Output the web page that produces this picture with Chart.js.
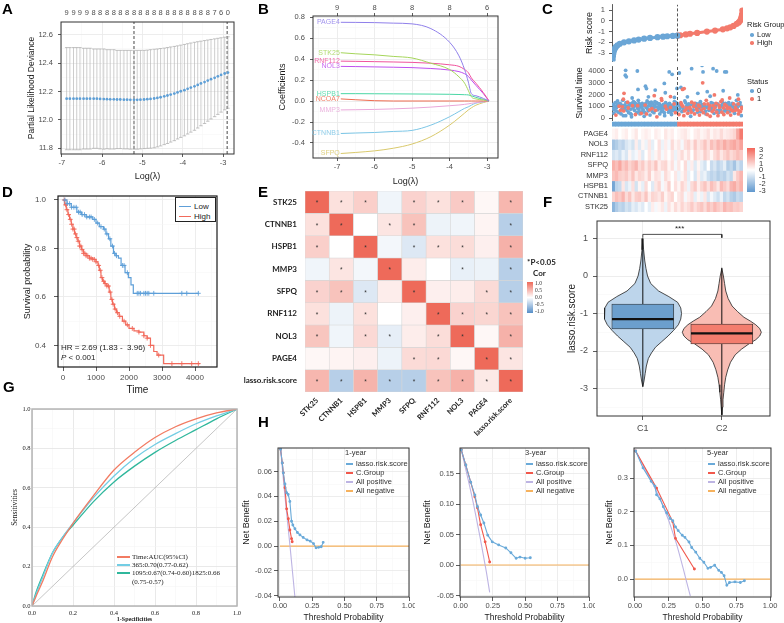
<!DOCTYPE html>
<html>
<head>
<meta charset="utf-8">
<title>Risk model figure</title>
<script src="https://cdn.jsdelivr.net/npm/chart.js@4.4.1/dist/chart.umd.min.js"></script>
<style>
  body { margin: 0; background: #ffffff; }
  #page { position: relative; width: 784px; height: 623px; overflow: hidden; background: #ffffff;
          font-family: "Liberation Sans", Arial, sans-serif; color: #1a1a1a; }
  #page canvas { position: absolute; }
  .tag { position: absolute; font-weight: bold; font-size: 15px; line-height: 15px; color: #000; }
  .t { position: absolute; white-space: nowrap; line-height: 1; transform: translateY(-50%); }
  .sw { position: absolute; }
</style>
</head>
<body>
<div id="page"></div>
<script>
// ---------- A: cross-validation curve ----------
var cvLambda = [-6.88,-6.80,-6.71,-6.63,-6.55,-6.46,-6.38,-6.30,-6.21,-6.13,-6.05,-5.96,-5.88,-5.80,-5.71,-5.63,-5.55,-5.46,-5.38,-5.30,-5.21,-5.13,-5.05,-4.96,-4.88,-4.80,-4.71,-4.63,-4.55,-4.46,-4.38,-4.30,-4.21,-4.13,-4.05,-3.96,-3.88,-3.80,-3.71,-3.63,-3.55,-3.46,-3.38,-3.30,-3.21,-3.13,-3.05,-2.96,-2.88];
var cvMean = [12.15,12.15,12.15,12.15,12.15,12.15,12.15,12.15,12.15,12.15,12.148,12.147,12.146,12.145,12.145,12.144,12.144,12.143,12.143,12.142,12.142,12.142,12.143,12.144,12.146,12.148,12.151,12.155,12.16,12.166,12.172,12.179,12.186,12.194,12.202,12.21,12.219,12.228,12.237,12.247,12.257,12.267,12.277,12.287,12.297,12.307,12.317,12.327,12.334];
var cvUpper = [12.51,12.51,12.51,12.51,12.51,12.505,12.505,12.505,12.5,12.5,12.5,12.5,12.495,12.495,12.495,12.49,12.49,12.49,12.49,12.49,12.49,12.49,12.49,12.49,12.492,12.495,12.498,12.5,12.503,12.506,12.51,12.514,12.518,12.522,12.527,12.532,12.537,12.542,12.547,12.551,12.555,12.559,12.563,12.567,12.571,12.575,12.579,12.583,12.586];
var cvLower = [11.79,11.79,11.79,11.79,11.79,11.795,11.795,11.795,11.8,11.8,11.796,11.794,11.797,11.795,11.795,11.798,11.798,11.796,11.796,11.794,11.794,11.794,11.796,11.798,11.8,11.801,11.804,11.81,11.817,11.826,11.834,11.844,11.854,11.866,11.877,11.888,11.901,11.914,11.927,11.943,11.959,11.975,11.991,12.007,12.023,12.039,12.055,12.071,12.082];
var cvTopNz = [9,9,9,9,8,8,8,8,8,8,8,8,8,8,8,8,8,8,8,8,8,8,7,6,0];
var cvMinLambda = -5.21;
var cv1seLambda = -2.9;

// ---------- B: coefficient paths ----------
var bX = [-6.9,-6.5,-6.0,-5.5,-5.0,-4.5,-4.0,-3.75,-3.6,-3.5,-3.42,-3.3,-3.1,-2.95];
var bGenes = ['PAGE4','STK25','RNF112','NOL3','HSPB1','NCOA7','MMP3','CTNNB1','SFPQ'];
var bColors = ['#8F7FEA','#A5D55A','#F0529C','#BE4FEF','#49D6A4','#EE6A4E','#E9A6D9','#7CC6E6','#D9C96C'];
var bPAGE4  = [0.75,0.749,0.747,0.742,0.735,0.69,0.56,0.43,0.30,0.18,0.07,0.05,0.025,0];
var bSTK25  = [0.46,0.45,0.44,0.425,0.41,0.36,0.30,0.23,0.17,0.10,0.04,0.02,0.01,0];
var bRNF112 = [0.38,0.378,0.375,0.372,0.368,0.36,0.345,0.33,0.30,0.27,0.22,0.17,0.08,0];
var bNOL3   = [0.33,0.328,0.325,0.322,0.318,0.31,0.295,0.28,0.26,0.235,0.20,0.15,0.07,0];
var bHSPB1  = [0.07,0.07,0.069,0.068,0.067,0.066,0.064,0.062,0.06,0.058,0.05,0.035,0.015,0];
var bNCOA7  = [0.02,0.012,0.003,0,0,0,0,0,0,0,0,0,0,0];
var bMMP3   = [-0.085,-0.083,-0.08,-0.075,-0.068,-0.058,-0.045,-0.038,-0.032,-0.027,-0.022,-0.016,-0.007,0];
var bCTNNB1 = [-0.31,-0.305,-0.30,-0.29,-0.28,-0.23,-0.15,-0.10,-0.07,-0.055,-0.04,-0.02,-0.008,0];
var bSFPQ   = [-0.50,-0.49,-0.475,-0.45,-0.41,-0.34,-0.23,-0.16,-0.115,-0.085,-0.065,-0.04,-0.015,0];
var bTopPos = [-7,-6,-5,-4,-3];
var bTopNz = [9,8,8,8,6];

// ---------- C: risk score, survival time, expression heatmap ----------
var riskIdx = [0,1,2,3,5,7,10,15,22,35,50,66,80,97,115,138,155,168,185,199];
var riskVal = [-3.6,-3.3,-3.05,-2.85,-2.68,-2.55,-2.42,-2.27,-2.13,-2.0,-1.9,-1.82,-1.74,-1.66,-1.59,-1.52,-1.47,-1.43,-1.4,-1.38];
var riskIdxH = [200,208,225,238,260,290,315,339,352,362,372,382,388,392,395,397,398,399];
var riskValH = [-1.37,-1.34,-1.26,-1.2,-1.12,-1.0,-0.9,-0.79,-0.7,-0.6,-0.47,-0.28,-0.15,0.0,0.2,0.4,0.6,0.95];
var riskCut = 199.5;
// [patient rank, survival time, status]
var survPts = [
[2,1150,0],[4,400,0],[5,700,0],[8,1300,0],[10,250,1],[12,900,0],[14,1050,0],[15,1450,0],[18,500,0],[20,1000,1],[23,1250,0],[24,650,1],[26,350,0],[29,800,0],[31,1500,0],[33,200,0],[34,600,1],[37,1100,0],[40,200,0],[43,950,0],[45,1000,0],[46,1350,1],[49,450,0],[52,1200,0],[55,750,0],[57,300,0],[58,100,0],[61,1050,1],[64,1400,0],[67,650,0],[68,1300,0],[70,300,1],[73,1150,0],[76,850,0],[79,1500,0],[80,750,0],[82,550,0],[85,1000,0],[88,400,1],[91,1250,0],[92,550,0],[94,700,0],[97,150,0],[100,1100,1],[103,900,0],[104,350,1],[106,1450,0],[109,600,0],[112,1300,0],[115,250,0],[116,1150,0],[118,1000,0],[121,800,1],[124,1200,0],[126,950,0],[127,450,0],[130,1400,0],[133,950,0],[136,100,1],[138,1250,0],[139,700,0],[142,1150,0],[145,350,0],[148,1050,0],[150,550,0],[151,1500,1],[154,600,0],[157,850,0],[160,200,0],[162,1000,1],[163,1300,0],[166,750,1],[169,1000,0],[172,500,0],[174,700,0],[175,1250,0],[178,900,1],[181,300,0],[184,1100,0],[186,1000,0],[187,650,0],[190,1400,0],[193,450,1],[196,950,0],[197,600,0],[199,1200,0],
[1,800,0],[7,1000,0],[11,600,0],[17,1200,0],[21,450,0],[27,1100,0],[30,950,1],[36,800,0],[41,1300,0],[44,650,0],[48,850,1],[51,1050,0],[54,400,0],[59,1250,0],[63,850,0],[66,1000,0],[71,1200,0],[74,450,0],[77,1050,1],[81,1250,0],[84,350,0],[87,1150,0],[90,850,0],[95,1050,0],[98,500,0],[102,1250,0],[107,800,0],[111,1050,0],[114,700,1],[119,1350,0],[122,550,0],[125,850,0],[129,1100,0],[132,650,1],[135,1300,0],[141,900,0],[144,1200,0],[147,800,0],[152,1000,0],[156,1150,0],[159,450,0],[164,900,0],[168,1150,0],[171,850,0],[177,1050,0],[180,550,0],[183,800,0],[189,1200,1],[192,800,0],[195,1300,0],
[33,1600,1],[35,2100,1],[39,3640,0],[40,4060,0],[42,3500,0],[60,1700,0],[76,4000,0],[78,2430,0],[101,2710,0],[104,2500,0],[110,1800,0],[128,1900,1],[131,2380,0],[150,1650,1],[159,2940,0],[162,2150,0],[174,3920,0],[178,1820,1],[183,3720,0],[190,1750,0],[198,2520,0],
[201,1100,0],[204,300,1],[205,3830,0],[206,1200,0],[207,800,0],[210,1300,1],[210,2600,0],[213,550,0],[215,2430,1],[216,1000,1],[218,650,0],[219,200,1],[220,2500,1],[222,1450,0],[225,700,1],[228,1050,0],[230,950,0],[230,1800,0],[231,400,1],[234,1200,0],[237,900,1],[240,150,0],[242,500,1],[243,1350,1],[243,4200,0],[246,600,0],[249,1000,1],[252,350,1],[254,1000,0],[255,1250,0],[258,800,1],[261,500,0],[262,2100,0],[264,1100,1],[266,850,0],[267,250,1],[270,1400,0],[273,700,1],[275,4480,0],[276,950,0],[277,2990,1],[278,1050,0],[278,3920,0],[279,450,1],[282,1200,1],[285,600,0],[288,1500,1],[290,900,0],[291,300,1],[291,2240,0],[294,1000,0],[297,800,1],[300,150,1],[300,1850,0],[302,700,0],[303,1300,0],[306,550,1],[309,1050,1],[309,4200,0],[312,400,0],[313,1960,1],[314,1150,0],[315,900,1],[318,1250,1],[320,4000,0],[321,650,0],[324,200,1],[326,450,0],[327,1100,1],[330,750,0],[333,1400,1],[336,500,1],[337,1540,1],[338,1300,0],[339,950,0],[340,2320,0],[342,300,1],[345,1150,1],[345,3920,0],[348,700,0],[350,600,0],[350,3920,0],[351,1000,1],[354,450,1],[357,1300,0],[360,850,1],[360,1700,1],[362,1000,0],[363,250,1],[366,1050,0],[369,600,1],[372,1200,1],[374,800,0],[375,400,0],[378,900,1],[381,1500,0],[384,700,1],[385,1960,0],[386,1200,1],[387,350,1],[387,1600,1],[390,1100,0],[393,550,1],[395,1000,0],[396,200,0],[398,800,1],
[203,700,0],[209,1000,0],[212,1150,1],[217,850,0],[221,600,1],[224,1300,0],[227,850,1],[233,650,0],[236,1100,0],[239,750,1],[245,1150,0],[248,700,0],[251,1250,1],[257,950,0],[260,650,1],[263,1200,0],[268,1000,1],[271,550,0],[274,1150,0],[281,800,1],[284,1000,0],[287,350,0],[293,1200,1],[296,650,0],[299,1050,1],[305,900,0],[308,1250,0],[311,700,1],[317,1000,0],[320,500,1],[323,1200,0],[329,900,1],[332,650,0],[335,1050,0],[341,850,1],[344,600,0],[347,1250,0],[353,800,1],[356,1100,0],[359,550,0],[365,700,1],[368,1250,0],[371,950,0],[377,650,1],[380,1100,0],[383,900,0],[389,600,1],[392,1300,0],[397,900,1]
];
var heatGenes = ['PAGE4','NOL3','RNF112','SFPQ','MMP3','HSPB1','CTNNB1','STK25'];
var hPAGE4  = [0.1,0.2,0,0.1,0.2,0,0.1,0.3,0,0.1,0.2,0.1,0,0.2,0.1,0,0.3,0.1,0.2,0,0.1,0.2,0.3,0.1,0,0.2,0.3,0.1,0.2,0.4,0.1,0.3,0.2,0.5,0.2,0.3,0.4,0.6,1.5,2.5];
var hNOL3   = [-1.5,-1.2,-0.8,-1.0,-0.5,-0.3,-0.6,0.2,-0.4,0.1,-0.2,0.3,-0.3,0.0,0.4,-0.2,0.2,-0.1,0.5,0.1,0.3,-0.1,0.4,0.6,0.2,0.8,0.3,0.5,0.9,0.4,1.0,0.7,1.2,0.9,1.4,1.0,1.3,1.5,1.1,1.6];
var hRNF112 = [-0.6,-0.4,-0.7,-0.2,-0.5,0.1,-0.3,-0.1,0.2,-0.4,0.0,0.3,-0.2,0.1,0.4,-0.1,0.2,0.0,0.3,-0.2,0.2,0.5,0.1,0.4,0.0,0.6,0.3,0.2,0.7,0.4,0.1,0.5,0.8,0.3,0.6,0.9,0.5,0.7,1.0,0.8];
var hSFPQ   = [1.3,1.0,1.5,0.8,1.1,0.6,0.9,1.2,0.5,0.8,0.3,0.7,0.4,0.9,0.2,0.5,0.6,0.1,0.4,-0.1,0.3,0.0,0.5,-0.2,0.2,-0.4,0.1,-0.3,-0.6,0.0,-0.8,-0.5,-1.0,-0.7,-0.3,-1.2,-0.9,-1.5,-0.6,-1.0];
var hMMP3   = [0.9,1.1,0.7,0.6,0.8,0.4,0.9,0.3,0.6,0.5,0.2,0.7,0.1,0.4,0.3,-0.1,0.5,0.2,0.0,0.3,-0.2,0.1,0.4,-0.3,0.0,-0.5,0.2,-0.4,-0.2,-0.7,-1.0,-0.8,-1.2,-0.9,-1.1,-0.6,-0.9,0.3,0.8,1.2];
var hHSPB1  = [-2.5,-1.0,-0.8,0.3,-0.5,-0.2,0.4,-0.6,0.1,-0.3,0.5,0.0,-0.4,0.3,0.6,-0.1,0.2,0.7,0.0,0.4,0.1,0.6,0.3,-0.2,0.5,0.8,0.2,0.6,0.9,0.4,1.0,0.7,0.3,1.1,0.8,0.5,1.2,1.4,0.9,1.3];
var hCTNNB1 = [0.6,1.0,0.8,1.2,0.5,0.9,0.3,0.7,0.8,0.4,0.9,0.2,0.6,0.5,0.3,0.7,0.1,0.4,0.6,0.0,0.3,0.5,-0.1,0.2,0.4,-0.3,0.1,-0.2,0.3,-0.5,-0.1,-0.4,-0.7,-0.2,-0.9,-0.6,-1.1,-1.3,-0.8,-1.0];
var hSTK25  = [-2.0,-1.3,-0.9,-1.1,-0.6,-0.8,-0.3,-0.5,-0.2,-0.4,0.0,-0.3,0.2,-0.1,0.1,0.3,-0.2,0.4,0.1,0.5,0.2,0.6,0.3,0.5,0.8,0.4,0.7,0.9,0.5,1.0,0.7,1.1,0.8,0.6,1.2,0.9,1.0,0.7,0.8,0.6];
var heatGroup = [0,0,0,0,0,0,0,0,0,0,0,0,0,0,0,0,0,0,0,0,1,1,1,1,1,1,1,1,1,1,1,1,1,1,1,1,1,1,1,1];

// ---------- D: Kaplan-Meier ----------
var lowT = [0,120,250,420,560,700,900,1000,1100,1230,1300,1380,1450,1530,1600,1680,1760,1880,1980,2060,2130,4100];
var lowS = [1.0,0.985,0.97,0.95,0.94,0.93,0.92,0.905,0.89,0.88,0.86,0.84,0.81,0.78,0.77,0.76,0.73,0.70,0.68,0.65,0.615,0.615];
var highT = [0,50,100,150,200,250,300,350,400,450,500,560,620,700,800,900,1000,1060,1100,1150,1200,1260,1330,1400,1450,1500,1560,1620,1700,1800,1900,2000,2150,2300,2450,2550,2650,2750,2850,3050,4150];
var highS = [1.0,0.98,0.96,0.94,0.92,0.90,0.88,0.86,0.845,0.83,0.81,0.795,0.78,0.77,0.76,0.755,0.745,0.73,0.71,0.68,0.665,0.655,0.645,0.62,0.59,0.57,0.55,0.535,0.52,0.50,0.485,0.47,0.46,0.455,0.44,0.43,0.40,0.375,0.36,0.325,0.325];
var lowCens = [60,130,200,260,330,400,470,520,580,650,720,800,850,950,1050,1150,1250,1330,1420,1500,1560,1620,1800,1850,1950,2250,2300,2350,2450,2500,2550,2600,2750,3600,3750,4100];
var highCens = [40,80,120,170,220,260,300,340,380,420,460,500,540,580,620,660,700,750,800,850,900,950,1000,1080,1130,1180,1230,1280,1330,1380,1430,1480,1520,1580,1650,1720,1850,1950,2100,2300,2450,2550,2650,2900,3300,3600,3900,4100];

// ---------- E: correlation matrix ----------
var eGenes = ['STK25','CTNNB1','HSPB1','MMP3','SFPQ','RNF112','NOL3','PAGE4','lasso.risk.score'];
var eCor = [
  [1, 0.12, 0.22, -0.04, 0.2, 0.12, 0.25, 0.02, 0.38],
  [0.12, 1, 0.0, 0.1, 0.3, -0.05, -0.04, 0.03, -0.32],
  [0.22, 0.0, 1, -0.03, -0.12, 0.12, 0.14, 0.05, 0.42],
  [-0.04, 0.1, -0.03, 1, 0.06, 0.0, -0.07, -0.05, -0.32],
  [0.2, 0.3, -0.12, 0.06, 1, 0.05, 0.06, 0.15, -0.32],
  [0.12, -0.05, 0.12, 0.0, 0.05, 1, 0.2, 0.18, 0.3],
  [0.28, -0.04, 0.16, -0.08, 0.06, 0.14, 1, 0.02, 0.42],
  [0.02, 0.03, 0.05, -0.05, 0.15, 0.16, 0.02, 1, 0.1],
  [0.38, -0.32, 0.4, -0.32, -0.32, 0.3, 0.42, 0.08, 1]
];
var eSig = [
  [1,1,1,0,1,1,1,0,1],
  [1,1,0,1,1,0,0,0,1],
  [1,0,1,0,1,1,1,0,1],
  [0,1,0,1,0,0,1,0,1],
  [1,1,1,0,1,0,0,1,1],
  [1,0,1,0,0,1,1,1,1],
  [1,0,1,1,0,1,1,0,1],
  [0,0,0,0,1,1,0,1,1],
  [1,1,1,1,1,1,1,1,1]
];

// ---------- F: violin + box ----------
var c1Vy = [1.0,0.7,0.4,0.2,0.0,-0.2,-0.4,-0.55,-0.7,-0.85,-1.0,-1.15,-1.3,-1.45,-1.6,-1.75,-1.9,-2.05,-2.2,-2.4,-2.6,-2.8,-2.95];
var c1Vw = [0.0,0.01,0.025,0.04,0.06,0.1,0.2,0.33,0.44,0.48,0.49,0.48,0.45,0.39,0.32,0.24,0.16,0.11,0.07,0.045,0.03,0.015,0.0];
var c2Vy = [0.2,0.0,-0.2,-0.4,-0.6,-0.8,-0.95,-1.1,-1.2,-1.3,-1.4,-1.5,-1.6,-1.7,-1.8,-1.95,-2.1,-2.3,-2.5,-2.7,-2.9,-3.1,-3.3,-3.5,-3.7];
var c2Vw = [0.0,0.02,0.035,0.05,0.08,0.13,0.2,0.28,0.36,0.43,0.48,0.5,0.48,0.43,0.35,0.25,0.17,0.11,0.075,0.05,0.035,0.025,0.015,0.008,0.0];
var boxC1 = { lo: -2.95, q1: -1.41, med: -1.15, q3: -0.75, hi: 1.0 };
var boxC2 = { lo: -3.72, q1: -1.81, med: -1.53, q3: -1.28, hi: 0.22 };

// ---------- G: ROC ----------
var rocFpr = [0,0.02,0.05,0.1,0.15,0.2,0.3,0.4,0.5,0.6,0.7,0.8,0.9,1.0];
var rocTime = [0,0.05,0.12,0.25,0.34,0.42,0.56,0.69,0.78,0.855,0.91,0.95,0.98,1.0];
var roc365  = [0,0.06,0.14,0.27,0.35,0.42,0.55,0.66,0.75,0.82,0.875,0.925,0.965,1.0];
var roc1095 = [0,0.07,0.15,0.27,0.35,0.41,0.53,0.63,0.71,0.78,0.84,0.895,0.95,1.0];
var rocLegend = ['Time:AUC(95%CI)','365:0.70(0.77-0.62)','1095:0.67(0.74-0.60)1825:0.66','(0.75-0.57)'];

// ---------- H: decision curves ----------
var dcaNames = ['lasso.risk.score','C.Group','All positive','All negative'];
var dcaColors = ['#6AAAD9','#F1584C','#BDB4E3','#F6B25E'];
var lasso1x = [0.005,0.018,0.026,0.039,0.052,0.064,0.077,0.09,0.1,0.116,0.135,0.155,0.18,0.21,0.235,0.26,0.28,0.3,0.32,0.335];
var lasso1y = [0.078,0.067,0.059,0.05,0.043,0.0415,0.036,0.02,0.017,0.014,0.011,0.009,0.007,0.005,0.004,0.002,-0.0014,-0.001,-0.0005,0.003];
var group1x = [0.005,0.018,0.026,0.039,0.052,0.065,0.077,0.09,0.095];
var group1y = [0.078,0.067,0.059,0.047,0.03,0.022,0.013,0.006,0.0035];
var allPos1x = [0.005,0.04,0.08,0.116];
var allPos1y = [0.078,0.039,-0.002,-0.041];
var lasso2x = [0.005,0.04,0.078,0.11,0.13,0.155,0.18,0.21,0.245,0.295,0.35,0.39,0.43,0.46,0.5,0.54];
var lasso2y = [0.189,0.164,0.136,0.115,0.096,0.082,0.069,0.049,0.038,0.033,0.028,0.02,0.011,0.013,0.011,0.012];
var group2x = [0.005,0.04,0.078,0.11,0.13,0.155,0.19,0.225];
var group2y = [0.189,0.164,0.136,0.112,0.094,0.066,0.038,0.005];
var allPos2x = [0.005,0.1,0.2,0.225];
var allPos2y = [0.189,0.1,-0.012,-0.045];
var lasso3x = [0.005,0.06,0.12,0.148,0.16,0.185,0.21,0.235,0.26,0.28,0.3,0.32,0.35,0.37,0.4,0.42,0.45,0.48,0.51,0.54,0.56,0.59,0.62,0.64,0.66,0.68,0.7,0.74,0.78,0.81];
var lasso3y = [0.38,0.33,0.29,0.276,0.25,0.238,0.215,0.197,0.18,0.173,0.155,0.144,0.13,0.124,0.11,0.094,0.08,0.062,0.05,0.032,0.035,0.041,0.026,0.02,0.01,-0.018,-0.01,-0.008,-0.01,-0.005];
var group3x = [0.005,0.16,0.28,0.3,0.44];
var group3y = [0.38,0.27,0.17,0.121,0.03];
var allPos3x = [0.005,0.2,0.3,0.41];
var allPos3y = [0.38,0.225,0.114,-0.05];

// ================= helpers =================
Chart.defaults.font.family = '"Liberation Sans", Arial, sans-serif';
Chart.defaults.font.size = 7.5;
Chart.defaults.color = '#4D4D4D';
Chart.defaults.animation = false;
Chart.defaults.responsive = false;
Chart.defaults.plugins.legend.display = false;
Chart.defaults.plugins.tooltip.enabled = false;
Chart.defaults.elements.point.radius = 0;
Chart.defaults.elements.point.hoverRadius = 0;

var page = document.getElementById('page');
var SERIF = '"Liberation Serif", "Times New Roman", serif';
var BLUE = '#6BA6D6', RED = '#F37A6C';

var framePlugin = {
  id: 'frame',
  afterDatasetsDraw(chart, args, o) {
    if (!o || !o.color) return;
    var a = chart.chartArea, ctx = chart.ctx;
    ctx.save();
    ctx.strokeStyle = o.color;
    ctx.lineWidth = o.width || 1;
    ctx.strokeRect(a.left, a.top, a.right - a.left, a.bottom - a.top);
    ctx.restore();
  }
};
Chart.register(framePlugin);

function mkCanvas(id, c) {
  var cv = document.createElement('canvas');
  cv.id = id;
  cv.width = c[2] - c[0];
  cv.height = c[3] - c[1];
  cv.style.left = c[0] + 'px';
  cv.style.top = c[1] + 'px';
  page.appendChild(cv);
  return cv;
}
function fitY(w) { return function (s) { s.width = w; s.paddingTop = 0; s.paddingBottom = 0; }; }
function fitX(h) { return function (s) { s.height = h; s.paddingLeft = 0; s.paddingRight = 0; }; }
function setTicks(vals) { return function (s) { s.ticks = vals.map(function (v) { return { value: v }; }); }; }
function near(v, step) { return Math.abs(v / step - Math.round(v / step)) < 1e-6; }
function steps(a, b, s) {
  var out = [];
  for (var v = a; v <= b + 1e-9; v += s) out.push(Math.round(v * 1e6) / 1e6);
  return out;
}
function pts(xs, ys) { return xs.map(function (x, i) { return { x: x, y: ys[i] }; }); }
function fix(v, d) { return (Math.round(v * 1e6) / 1e6).toFixed(d); }

// ggplot-like axis with major / minor grid
function ggAxis(o) {
  var isY = o.pos === 'y';
  var fam = o.family || Chart.defaults.font.family;
  var majorCol = o.gridColor || '#EBEBEB', minorCol = o.minorColor || '#F5F5F5';
  return {
    type: 'linear', position: isY ? 'left' : 'bottom',
    min: o.min, max: o.max, offset: false,
    afterFit: isY ? fitY(o.size) : fitX(o.size),
    afterBuildTicks: setTicks(o.ticks),
    border: { display: false },
    grid: {
      offset: false,
      color: function (c) { return c.tick && near(c.tick.value, o.major) ? majorCol : minorCol; },
      tickColor: function (c) { return c.tick && near(c.tick.value, o.major) ? (o.tickColor || '#333') : 'rgba(0,0,0,0)'; },
      lineWidth: function (c) { return c.tick && near(c.tick.value, o.major) ? 0.9 : 0.5; },
      tickLength: o.tl == null ? 3 : o.tl,
      tickWidth: 0.8,
      drawTicks: o.tl !== 0
    },
    ticks: {
      autoSkip: false, maxRotation: 0, padding: o.pad == null ? 2 : o.pad,
      color: o.tickText || '#4D4D4D', font: { size: o.fs || 7.5, family: fam },
      callback: function (v) { return near(v, o.major) ? o.fmt(v) : ''; }
    },
    title: {
      display: !!o.title, text: o.title, color: '#1A1A1A',
      font: { size: o.tsize || 9, family: fam, weight: o.tweight || 'normal' },
      padding: isY ? { top: o.tpad || 0, bottom: 0 } : { top: 0, bottom: o.tpad || 0 }
    }
  };
}
// plain left axis with an axis line (ggplot theme_classic)
function classicY(o) {
  return {
    type: 'linear', position: 'left', min: o.min, max: o.max,
    afterFit: fitY(o.size), afterBuildTicks: setTicks(o.ticks),
    border: { display: true, color: '#333', width: 0.8 },
    grid: { drawOnChartArea: false, tickLength: 3, tickColor: '#333', tickWidth: 0.8 },
    ticks: { autoSkip: false, padding: 4, color: '#4D4D4D', font: { size: 7.5 }, callback: function (v) { return String(v); } },
    title: { display: true, text: o.title, color: '#1A1A1A', font: { size: 9 }, padding: { top: o.tpad, bottom: 0 } }
  };
}

function addText(x, y, s, css) {
  var d = document.createElement('div');
  d.className = 't';
  d.innerHTML = s;
  d.style.left = x + 'px';
  d.style.top = y + 'px';
  if (css) d.style.cssText += css;
  page.appendChild(d);
  return d;
}
function addBox(x, y, w, h, css) {
  var d = document.createElement('div');
  d.className = 'sw';
  d.style.left = x + 'px'; d.style.top = y + 'px';
  d.style.width = w + 'px'; d.style.height = h + 'px';
  d.style.cssText += css;
  page.appendChild(d);
  return d;
}
function addLine(x, y, w, color, t) { return addBox(x, y - (t || 1.2) / 2, w, t || 1.2, 'background:' + color); }
function mix(c1, c2, t) { return 'rgb(' + c1.map(function (v, i) { return Math.round(v + (c2[i] - v) * t); }).join(',') + ')'; }
var WHITE = [255, 255, 255];
function corColor(v) {
  var t = Math.pow(Math.min(Math.abs(v), 1), 0.75);
  return v >= 0 ? mix(WHITE, [238, 106, 90], t) : mix(WHITE, [86, 142, 200], t);
}
function expColor(v) {
  var t = Math.pow(Math.min(Math.abs(v) / 3, 1), 0.8);
  return v >= 0 ? mix(WHITE, [243, 102, 90], t) : mix(WHITE, [96, 152, 206], t);
}
function stepAt(T, S, t) { var s = S[0]; for (var i = 0; i < T.length; i++) if (T[i] <= t) s = S[i]; return s; }

// ================= A =================
(function () {
  var yMin = 11.76, yMax = 12.69, xMin = -7.02, xMax = -2.73;
  var errSegs = [];
  cvLambda.forEach(function (x, i) { errSegs.push({ x: x, y: cvLower[i] }, { x: x, y: cvUpper[i] }, { x: x, y: null }); });
  var caps = [];
  cvLambda.forEach(function (x, i) { caps.push({ x: x, y: cvLower[i] }, { x: x, y: cvUpper[i] }); });
  var topPos = cvLambda.filter(function (_, i) { return i % 2 === 0; });
  new Chart(mkCanvas('cA', [0, 6, 240, 190]), {
    type: 'scatter',
    data: { datasets: [
      { data: pts(cvLambda, cvMean), pointRadius: 1.4, backgroundColor: '#5E9FD6', borderWidth: 0 },
      { data: caps, pointStyle: 'line', pointRadius: 1.7, borderColor: '#A9A9A9', borderWidth: 0.7 },
      { data: errSegs, showLine: true, spanGaps: false, borderColor: '#B8B8B8', borderWidth: 0.7 },
      { data: [{ x: cvMinLambda, y: yMin }, { x: cvMinLambda, y: yMax }], showLine: true, borderColor: '#333', borderWidth: 0.9, borderDash: [3, 2] },
      { data: [{ x: cv1seLambda, y: yMin }, { x: cv1seLambda, y: yMax }], showLine: true, borderColor: '#333', borderWidth: 0.9, borderDash: [3, 2] }
    ] },
    options: {
      layout: { padding: { left: 0, top: 0, right: 6, bottom: 0 } },
      plugins: { frame: { color: '#333', width: 1 } },
      scales: {
        x: ggAxis({ pos: 'x', size: 36, min: xMin, max: xMax, ticks: steps(-7, -3, 0.5), major: 1, fmt: String, pad: 1.5, title: 'Log(\u03bb)', tpad: 7.6 }),
        xTop: {
          type: 'linear', position: 'top', min: xMin, max: xMax,
          afterFit: fitX(16), afterBuildTicks: setTicks(topPos),
          border: { display: false }, grid: { drawOnChartArea: false, drawTicks: false },
          ticks: { autoSkip: false, maxRotation: 0, padding: 4.5, color: '#4D4D4D', font: { size: 7.5 },
                   callback: function (v, i) { return String(cvTopNz[i]); } }
        },
        y: ggAxis({ pos: 'y', size: 61, min: yMin, max: yMax, ticks: steps(11.8, 12.6, 0.1), major: 0.2, fmt: function (v) { return fix(v, 1); }, pad: 5, title: 'Partial Likelihood Deviance', tsize: 8.5, tpad: 26.5 })
      }
    }
  });
})();

// ================= B =================
(function () {
  var vals = [bPAGE4, bSTK25, bRNF112, bNOL3, bHSPB1, bNCOA7, bMMP3, bCTNNB1, bSFPQ];
  var pathLabels = {
    id: 'pathLabels',
    afterDatasetsDraw: function (chart) {
      var ctx = chart.ctx;
      ctx.save();
      ctx.font = '7px "Liberation Sans", Arial, sans-serif';
      ctx.textAlign = 'right';
      ctx.textBaseline = 'middle';
      ctx.globalAlpha = 0.85;
      chart.data.datasets.forEach(function (ds, i) {
        var p = chart.getDatasetMeta(i).data[0];
        ctx.fillStyle = ds.borderColor;
        ctx.fillText(ds.label, p.x - 1, p.y);
      });
      ctx.restore();
    }
  };
  new Chart(mkCanvas('cB', [240, 0, 505, 195]), {
    type: 'scatter',
    data: { datasets: bGenes.map(function (g, i) {
      return { label: g, data: pts(bX, vals[i]), showLine: true, borderColor: bColors[i], borderWidth: 1, cubicInterpolationMode: 'monotone' };
    }) },
    options: {
      layout: { padding: { left: 0, top: 0, right: 7, bottom: 0 } },
      plugins: { frame: { color: '#333', width: 1 } },
      scales: {
        x: ggAxis({ pos: 'x', size: 37, min: -7.64, max: -2.71, ticks: steps(-7.5, -3, 0.5), major: 1, fmt: String, pad: 1.5, title: 'Log(\u03bb)', tpad: 7.6 }),
        xTop: {
          type: 'linear', position: 'top', min: -7.64, max: -2.71,
          afterFit: fitX(16), afterBuildTicks: setTicks(bTopPos),
          border: { display: false }, grid: { drawOnChartArea: false, tickLength: 3, tickColor: '#333', tickWidth: 0.8 },
          ticks: { autoSkip: false, maxRotation: 0, padding: 0.5, color: '#4D4D4D', font: { size: 7.5 },
                   callback: function (v, i) { return String(bTopNz[i]); } }
        },
        y: ggAxis({ pos: 'y', size: 73, min: -0.543, max: 0.81, ticks: steps(-0.5, 0.8, 0.1), major: 0.2, fmt: function (v) { return fix(v, 1); }, pad: 5, title: 'Coefficients', tpad: 37.6 })
      }
    },
    plugins: [pathLabels]
  });
})();

// ================= C =================
(function () {
  var xMin = -2, xMax = 401;
  new Chart(mkCanvas('cC1', [545, 0, 784, 66]), {
    type: 'scatter',
    data: { datasets: [
      { data: [{ x: riskCut, y: -3.77 }, { x: riskCut, y: 1.51 }], showLine: true, borderColor: '#444', borderWidth: 0.9, borderDash: [3, 2] },
      { data: pts(riskIdx, riskVal), showLine: true, borderColor: BLUE, borderWidth: 3, pointRadius: 1.6, backgroundColor: BLUE, borderCapStyle: 'round', cubicInterpolationMode: 'monotone' },
      { data: pts(riskIdxH, riskValH), showLine: true, borderColor: RED, borderWidth: 3, pointRadius: 1.6, backgroundColor: RED, borderCapStyle: 'round', cubicInterpolationMode: 'monotone' }
    ] },
    options: {
      layout: { padding: { left: 0, top: 2, right: 41, bottom: 2 } },
      scales: {
        x: { type: 'linear', min: xMin, max: xMax, display: false },
        y: classicY({ size: 67, min: -3.77, max: 1.51, ticks: [-3, -2, -1, 0, 1], title: 'Risk score', tpad: 39.6 })
      }
    }
  });
  var s0 = survPts.filter(function (p) { return p[2] === 0; }).map(function (p) { return { x: p[0], y: p[1] }; });
  var s1 = survPts.filter(function (p) { return p[2] === 1; }).map(function (p) { return { x: p[0], y: p[1] }; });
  new Chart(mkCanvas('cC2', [545, 64, 784, 122]), {
    type: 'scatter',
    data: { datasets: [
      { data: [{ x: riskCut, y: -170 }, { x: riskCut, y: 4425 }], showLine: true, borderColor: '#444', borderWidth: 0.9, borderDash: [3, 2] },
      { data: s1, pointRadius: 1.9, backgroundColor: RED, borderWidth: 0 },
      { data: s0, pointRadius: 1.9, backgroundColor: BLUE, borderWidth: 0 }
    ] },
    options: {
      layout: { padding: { left: 0, top: 2, right: 41, bottom: 2 } },
      scales: {
        x: { type: 'linear', min: xMin, max: xMax, display: false },
        y: classicY({ size: 67, min: -170, max: 4425, ticks: [0, 1000, 2000, 3000, 4000], title: 'Survival time', tpad: 29.6 })
      }
    }
  });
  var rows = [hPAGE4, hNOL3, hRNF112, hSFPQ, hMMP3, hHSPB1, hCTNNB1, hSTK25];
  var sets = rows.map(function (vals, i) {
    return { type: 'bar', data: vals.map(function () { return [7 - i, 8 - i]; }), backgroundColor: vals.map(expColor),
             borderWidth: 0, grouped: false, barPercentage: 1, categoryPercentage: 1 };
  });
  sets.push({ type: 'bar', data: heatGroup.map(function () { return [8.25, 8.65]; }), backgroundColor: heatGroup.map(function (g) { return g ? RED : BLUE; }),
              borderWidth: 0, grouped: false, barPercentage: 1, categoryPercentage: 1 });
  new Chart(mkCanvas('cC3', [545, 119, 784, 214]), {
    type: 'bar',
    data: { labels: heatGroup.map(function (_, i) { return i; }), datasets: sets },
    options: {
      layout: { padding: { left: 0, top: 2, right: 41, bottom: 2 } },
      scales: {
        x: { display: false },
        y: {
          type: 'linear', min: 0, max: 8.75, afterFit: fitY(67),
          afterBuildTicks: setTicks(heatGenes.map(function (_, i) { return 7.5 - i; })),
          border: { display: false }, grid: { display: false, drawTicks: false },
          ticks: { autoSkip: false, padding: 4, color: '#333', font: { size: 7.5 },
                   callback: function (v) { return heatGenes[Math.round(7.5 - v)]; } }
        }
      }
    }
  });
  // legends
  addText(747, 25, 'Risk Group', 'font-size:7.5px;color:#222');
  addBox(750, 33.2, 3.6, 3.6, 'border-radius:50%;background:' + BLUE);
  addText(757, 35, 'Low', 'font-size:7.5px;color:#222');
  addBox(750, 41.2, 3.6, 3.6, 'border-radius:50%;background:' + RED);
  addText(757, 43, 'High', 'font-size:7.5px;color:#222');
  addText(747, 82, 'Status', 'font-size:7.5px;color:#222');
  addBox(750, 89.2, 3.6, 3.6, 'border-radius:50%;background:' + BLUE);
  addText(757, 91, '0', 'font-size:7.5px;color:#222');
  addBox(750, 97.2, 3.6, 3.6, 'border-radius:50%;background:' + RED);
  addText(757, 99, '1', 'font-size:7.5px;color:#222');
  addBox(747, 148, 8, 44, 'background:linear-gradient(to bottom,' + expColor(3) + ',' + expColor(0) + ',' + expColor(-3) + ')');
  ['3', '2', '1', '0', '-1', '-2', '-3'].forEach(function (s, i) { addText(759, 150 + i * 6.8, s, 'font-size:7.5px;color:#333'); });
})();

// ================= D =================
(function () {
  var kmBlue = '#5E9FD8', kmRed = '#F26A5B';
  new Chart(mkCanvas('cD', [0, 188, 225, 398]), {
    type: 'scatter',
    data: { datasets: [
      { data: lowCens.map(function (t) { return { x: t, y: stepAt(lowT, lowS, t) }; }), pointStyle: 'cross', pointRadius: 2.4, borderColor: kmBlue, borderWidth: 0.9 },
      { data: highCens.map(function (t) { return { x: t, y: stepAt(highT, highS, t) }; }), pointStyle: 'cross', pointRadius: 2.4, borderColor: kmRed, borderWidth: 0.9 },
      { data: pts(lowT, lowS), showLine: true, stepped: true, borderColor: kmBlue, borderWidth: 1.2 },
      { data: pts(highT, highS), showLine: true, stepped: true, borderColor: kmRed, borderWidth: 1.2 }
    ] },
    options: {
      layout: { padding: { left: 0, top: 8, right: 8, bottom: 0 } },
      plugins: { frame: { color: '#1A1A1A', width: 1.2 } },
      scales: {
        x: ggAxis({ pos: 'x', size: 31, min: -151.5, max: 4666, ticks: steps(0, 4500, 500), major: 1000, fmt: String, tl: 4, pad: 2, fs: 8, title: 'Time', tsize: 10, tpad: 2 }),
        y: ggAxis({ pos: 'y', size: 58, min: 0.311, max: 1.0165, ticks: steps(0.4, 1.0, 0.1), major: 0.2, fmt: function (v) { return fix(v, 1); }, tl: 4, pad: 8, fs: 8, title: 'Survival probability', tsize: 9, tpad: 22.6 })
      }
    }
  });
  addBox(175, 197, 41, 25, 'border:1px solid #222;background:#fff;box-sizing:border-box');
  addLine(179, 206.5, 12, kmBlue, 1.2);
  addText(194, 206.5, 'Low', 'font-size:8px;color:#222');
  addLine(179, 216.5, 12, kmRed, 1.2);
  addText(194, 216.5, 'High', 'font-size:8px;color:#222');
  addText(61, 348, 'HR = 2.69 (1.83 -&nbsp; 3.96)', 'font-size:8px;color:#222');
  addText(61, 358, '<i>P</i> &lt; 0.001', 'font-size:8px;color:#222');
})();

// ================= E =================
(function () {
  var stars = {
    id: 'stars',
    afterDatasetsDraw: function (chart) {
      var ctx = chart.ctx;
      ctx.save();
      ctx.fillStyle = '#333';
      ctx.font = '6.5px "Liberation Sans", Arial, sans-serif';
      ctx.textAlign = 'center';
      ctx.textBaseline = 'middle';
      eSig.forEach(function (row, r) {
        row.forEach(function (s, c) {
          if (!s) return;
          var el = chart.getDatasetMeta(r).data[c];
          ctx.fillText('*', el.x, (el.y + el.base) / 2 + 1.5);
        });
      });
      ctx.restore();
    }
  };
  var lato = 'Lato, "Open Sans", sans-serif';
  new Chart(mkCanvas('cE', [225, 185, 560, 450]), {
    type: 'bar',
    data: { labels: eGenes, datasets: eCor.map(function (row, r) {
      return { data: row.map(function () { return [r, r + 1]; }), backgroundColor: row.map(corColor),
               borderColor: '#D6D6D6', borderWidth: 0.6, borderSkipped: false, grouped: false, barPercentage: 1, categoryPercentage: 1 };
    }) },
    options: {
      layout: { padding: { left: 0, top: 6, right: 37, bottom: 0 } },
      scales: {
        x: {
          afterFit: fitX(58), border: { display: false }, grid: { display: false, drawTicks: false },
          ticks: { autoSkip: false, minRotation: 45, maxRotation: 45, padding: 4, color: '#222', font: { size: 7.5, weight: 'bold', family: lato } }
        },
        y: {
          type: 'linear', min: 0, max: 9, reverse: true, afterFit: fitY(80),
          afterBuildTicks: setTicks(eGenes.map(function (_, i) { return i + 0.5; })),
          border: { display: false }, grid: { display: false, drawTicks: false },
          ticks: { autoSkip: false, padding: 8, color: '#222', font: { size: 8, weight: 'bold', family: lato },
                   callback: function (v) { return eGenes[Math.round(v - 0.5)]; } }
        }
      }
    },
    plugins: [stars]
  });
  addText(527, 262, '*P&lt;0.05', 'font-size:8px;font-weight:bold;color:#222;font-family:' + lato);
  addText(533, 273, 'Cor', 'font-size:8px;font-weight:bold;color:#222;font-family:' + lato);
  addBox(527, 282, 6, 31, 'background:linear-gradient(to bottom,' + corColor(1) + ',' + corColor(0) + ',' + corColor(-1) + ')');
  ['1.0', '0.5', '0.0', '-0.5', '-1.0'].forEach(function (s, i) {
    addText(535, 284 + i * 7, s, 'font-size:5.5px;color:#333;font-family:' + SERIF);
  });
})();

// ================= F =================
(function () {
  function violin(cx, ys, ws) {
    var left = ys.map(function (y, i) { return { x: cx - ws[i], y: y }; });
    var right = ys.map(function (y, i) { return { x: cx + ws[i], y: y }; }).reverse();
    return left.concat(right);
  }
  var half = 0.39;
  function boxSets(cx, b, fill, vfill, ys, ws) {
    return [
      { data: [{ x: cx - half, y: b.med }, { x: cx + half, y: b.med }], showLine: true, borderColor: '#111', borderWidth: 2.2, order: 1 },
      { type: 'bar', data: [{ x: cx, y: [b.q1, b.q3] }], backgroundColor: fill, borderColor: '#333', borderWidth: 0.8,
        borderSkipped: false, barThickness: 62, grouped: false, order: 2 },
      { data: [{ x: cx, y: b.lo }, { x: cx, y: b.hi }], showLine: true, borderColor: '#111', borderWidth: 1, order: 3 },
      { data: violin(cx, ys, ws), showLine: true, fill: 'shape', backgroundColor: vfill, borderColor: '#222', borderWidth: 0.8, order: 4 }
    ];
  }
  var sets = boxSets(1, boxC1, '#6C9FCD', '#BDD5EB', c1Vy, c1Vw).concat(boxSets(2, boxC2, '#F37D6E', '#F9BDB4', c2Vy, c2Vw));
  sets.push({ data: [{ x: 1, y: 1.02 }, { x: 1, y: 1.11 }, { x: 2, y: 1.11 }, { x: 2, y: 1.02 }], showLine: true, borderColor: '#222', borderWidth: 0.8, order: 0 });
  new Chart(mkCanvas('cF', [545, 212, 784, 440]), {
    type: 'scatter',
    data: { datasets: sets },
    options: {
      layout: { padding: { left: 0, top: 9, right: 14, bottom: 0 } },
      plugins: { frame: { color: '#333', width: 1 } },
      scales: {
        x: ggAxis({ pos: 'x', size: 24, min: 0.42, max: 2.61, ticks: [1, 2], major: 1, fmt: function (v) { return v === 1 ? 'C1' : 'C2'; }, tl: 4, pad: 3, fs: 9 }),
        y: ggAxis({ pos: 'y', size: 52, min: -3.733, max: 1.467, ticks: steps(-3.5, 1.0, 0.5), major: 1, fmt: String, tl: 4, pad: 5, fs: 9, title: 'lasso.risk.score', tsize: 10, tpad: 21 })
      }
    }
  });
  addText(675, 229, '***', 'font-size:8px;color:#222');
})();

// ================= G =================
(function () {
  var cols = ['#F27B62', '#73CDE4', '#2FB79C'];
  new Chart(mkCanvas('cG', [0, 400, 245, 623]), {
    type: 'scatter',
    data: { datasets: [
      { data: pts(rocFpr, rocTime), showLine: true, borderColor: cols[0], borderWidth: 1.3, cubicInterpolationMode: 'monotone' },
      { data: pts(rocFpr, roc365), showLine: true, borderColor: cols[1], borderWidth: 1.3, cubicInterpolationMode: 'monotone' },
      { data: pts(rocFpr, roc1095), showLine: true, borderColor: cols[2], borderWidth: 1.3, cubicInterpolationMode: 'monotone' },
      { data: [{ x: 0, y: 0 }, { x: 1, y: 1 }], showLine: true, borderColor: '#A0A0A0', borderWidth: 0.6 }
    ] },
    options: {
      layout: { padding: { left: 0, top: 9, right: 8, bottom: 0 } },
      plugins: { frame: { color: '#B5B5B5', width: 1.5 } },
      scales: {
        x: ggAxis({ pos: 'x', size: 17, min: 0, max: 1, ticks: steps(0, 1, 0.1), major: 0.2, fmt: function (v) { return fix(v, 1); }, tl: 0, pad: 3, fs: 6.5, family: SERIF, tickText: '#222', gridColor: '#E6E6E6', minorColor: '#F3F3F3', title: '1-Specificities', tsize: 6, tweight: 'bold', tpad: 0 }),
        y: ggAxis({ pos: 'y', size: 32, min: 0, max: 1, ticks: steps(0, 1, 0.1), major: 0.2, fmt: function (v) { return fix(v, 1); }, tl: 0, pad: 1.5, fs: 6.5, family: SERIF, tickText: '#222', gridColor: '#E6E6E6', minorColor: '#F3F3F3', title: 'Sensitivities', tsize: 7.5, tpad: 10.5 })
      }
    }
  });
  var ys = [557, 565, 573, 582];
  rocLegend.forEach(function (s, i) {
    if (i < 3) addLine(117, ys[i], 13, cols[i], 1.2);
    addText(132, ys[i], s, 'font-size:7px;color:#222;font-family:' + SERIF);
  });
})();

// ================= H =================
function dcaChart(id, canvas, yw, padR, yOpt, xOpt, data, legendX, title) {
  new Chart(mkCanvas(id, canvas), {
    type: 'scatter',
    data: { datasets: [
      { data: data[0], showLine: true, borderColor: dcaColors[0], backgroundColor: dcaColors[0], borderWidth: 1.1, pointRadius: 0.9 },
      { data: data[1], showLine: true, borderColor: dcaColors[1], backgroundColor: dcaColors[1], borderWidth: 1.1, pointRadius: 0.9 },
      { data: data[2], showLine: true, borderColor: dcaColors[2], borderWidth: 1.1, cubicInterpolationMode: 'monotone' },
      { data: [{ x: 0, y: 0 }, { x: 1, y: 0 }], showLine: true, borderColor: dcaColors[3], borderWidth: 1.1 }
    ] },
    options: {
      layout: { padding: { left: 0, top: 8, right: padR, bottom: 0 } },
      plugins: { frame: { color: '#333', width: 1 } },
      scales: {
        x: ggAxis(Object.assign({ pos: 'x', size: 26, ticks: steps(0, 1, 0.125), major: 0.25, fmt: function (v) { return fix(v, 2); }, tl: 4, pad: 0.5, title: 'Threshold Probability', tsize: 8.5, tpad: 0.6 }, xOpt)),
        y: ggAxis(Object.assign({ pos: 'y', size: yw, tl: 4, pad: 2, title: 'Net Benefit', tsize: 9 }, yOpt))
      }
    }
  });
  addText(legendX, 453, title, 'font-size:7.5px;color:#333');
  dcaNames.forEach(function (n, i) {
    var y = 464 + i * 9;
    addLine(legendX + 1, y, 7, dcaColors[i], 1.2);
    addText(legendX + 11, y, n, 'font-size:7.5px;color:#333');
  });
}
dcaChart('cH1', [240, 440, 415, 623], 38, 6,
  { min: -0.041, max: 0.079, ticks: steps(-0.04, 0.07, 0.01), major: 0.02, fmt: function (v) { return fix(v, 2); }, tpad: 1.6 },
  { min: -0.015, max: 1.0 },
  [pts(lasso1x, lasso1y), pts(group1x, group1y), pts(allPos1x, allPos1y)], 345, '1-year');
dcaChart('cH2', [420, 440, 595, 623], 40, 6,
  { min: -0.0525, max: 0.192, ticks: steps(-0.05, 0.175, 0.025), major: 0.05, fmt: function (v) { return fix(v, 2); }, tpad: 2.6 },
  { min: -0.005, max: 0.995 },
  [pts(lasso2x, lasso2y), pts(group2x, group2y), pts(allPos2x, allPos2y)], 525, '3-year');
dcaChart('cH3', [600, 440, 784, 623], 34, 13,
  { min: -0.053, max: 0.389, ticks: steps(-0.05, 0.35, 0.05), major: 0.1, fmt: function (v) { return fix(v, 1); }, tpad: 4.6 },
  { min: -0.007, max: 1.007 },
  [pts(lasso3x, lasso3y), pts(group3x, group3y), pts(allPos3x, allPos3y)], 707, '5-year');

// ================= panel letters =================
[['A', 2, 3], ['B', 258, 3], ['C', 542, 3], ['D', 2, 186], ['E', 258, 186], ['F', 543, 196], ['G', 3, 381], ['H', 258, 416]].forEach(function (p) {
  var d = document.createElement('div');
  d.className = 'tag';
  d.textContent = p[0];
  d.style.left = p[1] + 'px';
  d.style.top = (p[2] - 2) + 'px';
  page.appendChild(d);
});
</script>
</body>
</html>
